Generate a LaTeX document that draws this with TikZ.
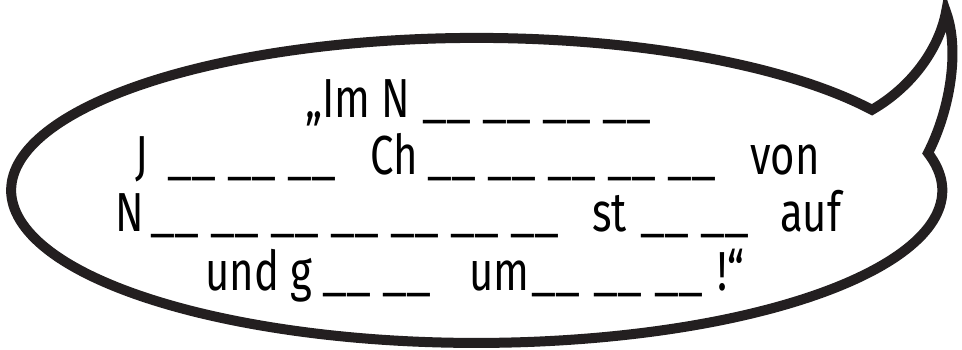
\documentclass[tikz,border=0pt]{standalone}
\usepackage{fontspec}
\setmainfont{Fira Sans}[FakeStretch=0.76]
\newfontfamily\ulfont{Fira Sans}[FakeStretch=0.92]
\usepackage{graphicx}
\definecolor{ink}{RGB}{35,31,32}
\newcommand\blank{{\ulfont\fontsize{45}{54}\selectfont\resizebox*{49pt}{\totalheight}{\_\_}}}
\newcommand\gp{\hspace{11pt}}
\begin{document}
\begin{tikzpicture}[x=1pt,y=1pt,
  txt/.style={inner sep=0pt, anchor=base west, font=\fontsize{55}{60}\selectfont, text=black},
  bubble/.style={draw=ink, line width=10pt, line join=miter, miter limit=12, fill=white}]
\useasboundingbox (0,0) rectangle (962,349);
\draw[bubble] (928,196) arc[start angle=14.2, end angle=-328.1, x radius=465.5, y radius=152.5] coordinate (tn)
  .. controls (915,264) and (940,304) .. (946,337) coordinate (tip)
  .. controls (960,299) and (950,239) .. (928,196) -- cycle;
\node[txt] (l1) at (305,232) {\makebox[117pt][l]{„Im N}\blank\gp\blank\gp\blank\gp\blank};
\node[txt] (l2) at (135,175) {\makebox[32pt][l]{J}\blank\gp\blank\gp\blank\hspace{34pt}\makebox[57pt][l]{Ch}\blank\gp\blank\gp\blank\gp\blank\gp\blank\hspace{34pt}von};
\node[txt] (l3) at (115,118) {\makebox[35pt][l]{N}\blank\gp\blank\gp\blank\gp\blank\gp\blank\gp\blank\gp\blank\hspace{33pt}\makebox[48pt][l]{st}\blank\gp\blank\hspace{31pt}auf};
\node[txt] (l4) at (205,59) {\makebox[85pt][l]{und}\makebox[32pt][l]{g}\blank\gp\blank\hspace{38pt}\makebox[62pt][l]{um}\blank\hspace{13pt}\blank\hspace{12pt}\blank\hspace{14pt}!“};
\end{tikzpicture}
\end{document}
